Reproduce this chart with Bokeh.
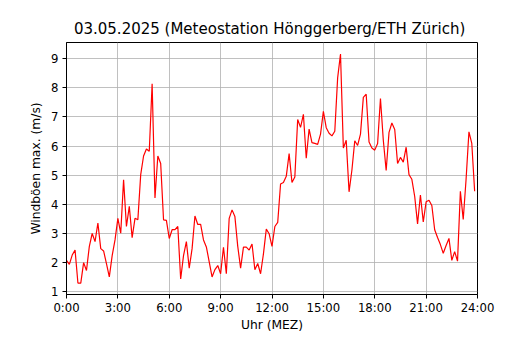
from bokeh.plotting import figure
from bokeh.models import FixedTicker, Range1d, ColumnDataSource
from bokeh.embed import file_html
from bokeh.resources import INLINE

TITLE = "03.05.2025  (Meteostation Hönggerberg/ETH Zürich)"
X_LABEL = "Uhr (MEZ)"
Y_LABEL = "Windböen max. (m/s)"

# sampling every 10 minutes through the day
minutes = list(range(0, 1440, 10))

gust = [
    2.08, 1.94, 2.26, 2.43, 1.30, 1.30, 2.00, 1.73, 2.56, 3.00,
    2.72, 3.36, 2.48, 2.40, 1.97, 1.51, 2.24, 2.78, 3.52, 3.01,
    4.84, 3.24, 3.93, 2.86, 3.52, 3.47, 5.02, 5.66, 5.90, 5.82,
    8.14, 4.22, 5.66, 5.40, 3.47, 3.45, 2.83, 3.13, 3.13, 3.24,
    1.44, 2.24, 2.72, 1.81, 2.48, 3.60, 3.31, 3.31, 2.78, 2.54,
    2.03, 1.51, 1.76, 1.90, 1.62, 2.53, 1.62, 3.52, 3.81, 3.58,
    2.56, 1.81, 2.53, 2.53, 2.43, 2.64, 1.76, 1.97, 1.62, 2.30,
    3.15, 2.99, 2.56, 3.24, 3.38, 4.70, 4.75, 4.96, 5.74, 4.75,
    4.94, 6.91, 6.64, 7.09, 5.58, 6.58, 6.12, 6.09, 6.06, 6.41,
    7.19, 6.63, 6.44, 6.35, 6.51, 8.34, 9.16, 5.93, 6.20, 4.43,
    5.18, 6.18, 6.02, 6.41, 7.67, 7.78, 6.14, 5.93, 5.86, 6.09,
    7.63, 6.20, 5.16, 6.47, 6.79, 6.57, 5.40, 5.61, 5.45, 5.96,
    5.02, 4.86, 4.27, 3.33, 4.32, 3.40, 4.09, 4.14, 3.96, 3.13,
    2.86, 2.62, 2.32, 2.59, 2.83, 2.08, 2.38, 2.05, 4.45, 3.48,
    4.86, 6.49, 6.09, 4.45,
]

x_tick_hours = [0, 3, 6, 9, 12, 15, 18, 21, 24]
x_tick_labels = ["0:00", "3:00", "6:00", "9:00", "12:00", "15:00", "18:00", "21:00", "24:00"]
y_ticks = [1, 2, 3, 4, 5, 6, 7, 8, 9]

hours = [m / 60.0 for m in minutes]
src = ColumnDataSource(data=dict(h=hours, g=gust))

ymin, ymax = min(gust), max(gust)
pad = 0.05 * (ymax - ymin)

p = figure(width=514, height=334, output_backend="svg", toolbar_location=None,
           x_range=Range1d(0, 24), y_range=Range1d(ymin - pad, ymax + pad),
           min_border_left=66, min_border_right=37, min_border_top=42,
           min_border_bottom=10)
p.background_fill_color = "white"
p.border_fill_color = "white"
p.outline_line_color = "black"
p.outline_line_width = 1
p.outline_line_alpha = 1

p.title.text = TITLE
p.title.align = "center"
p.title.text_font = "DejaVu Sans"
p.title.text_font_size = "15px"
p.title.text_font_style = "normal"
p.title.text_color = "black"

FONT = "DejaVu Sans"
for ax in (p.xaxis[0], p.yaxis[0]):
    ax.major_tick_in = 0
    ax.major_tick_out = 4
    ax.minor_tick_in = 0
    ax.minor_tick_out = 0
    ax.axis_line_color = "black"
    ax.major_tick_line_color = "black"
    ax.major_label_text_font = FONT
    ax.major_label_text_font_size = "11.7px"
    ax.major_label_text_color = "black"
    ax.axis_label_text_font = FONT
    ax.axis_label_text_font_size = "12.3px"
    ax.axis_label_text_font_style = "normal"
    ax.axis_label_text_color = "black"

p.xaxis.ticker = FixedTicker(ticks=x_tick_hours)
p.xaxis.major_label_overrides = {h: lab for h, lab in zip(x_tick_hours, x_tick_labels)}
p.xaxis.axis_label = X_LABEL
p.xaxis.major_label_standoff = 2
p.xaxis.axis_label_standoff = 0

p.yaxis.ticker = FixedTicker(ticks=y_ticks)
p.yaxis.axis_label = Y_LABEL
p.yaxis.major_label_standoff = 4
p.yaxis.axis_label_standoff = 5

p.xgrid.ticker = FixedTicker(ticks=x_tick_hours)
p.ygrid.ticker = FixedTicker(ticks=y_ticks)
for g in (p.xgrid[0], p.ygrid[0]):
    g.grid_line_color = "#b0b0b0"
    g.grid_line_width = 0.8

p.line("h", "g", source=src, line_color="red", line_width=1.2)

open("out.html", "w").write(file_html(p, INLINE))
